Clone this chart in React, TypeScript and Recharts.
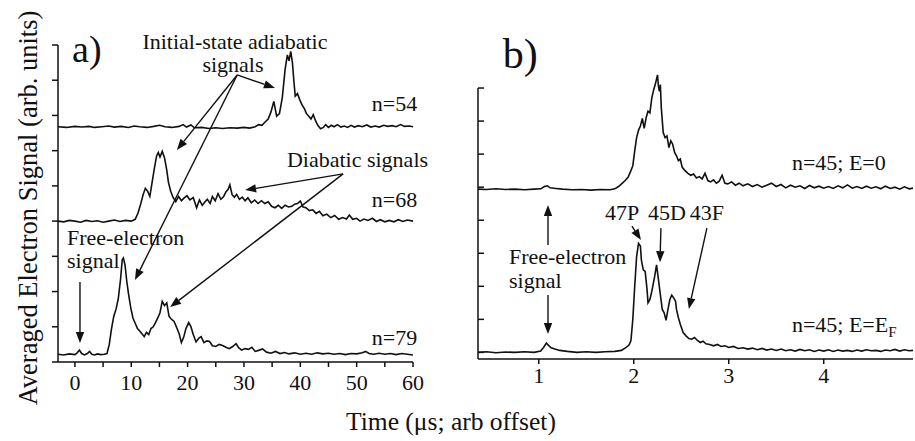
import React from "react";
import { LineChart, Line, XAxis, YAxis, ReferenceLine, ReferenceDot } from "recharts";

// panel a) time (µs) vs signal, three n states stacked with offsets
const n54: number[][] = [
  [-3, 6.68], [-1.5, 6.66], [0, 6.69], [1.2, 6.67], [2.5, 6.69], [3.5, 6.66], [4.8, 6.68], [6, 6.7], [7, 6.67],
  [8.2, 6.69], [9.5, 6.66], [10.5, 6.7], [11.5, 6.68], [12.8, 6.66], [14, 6.69], [15, 6.72], [16, 6.68],
  [17.2, 6.66], [18.5, 6.69], [19.2, 6.74], [19.8, 6.67], [20.6, 6.73], [21.2, 6.65], [22.5, 6.66], [23.8, 6.63],
  [25, 6.65], [26.2, 6.63], [27.5, 6.65], [28.8, 6.64], [30, 6.66], [31, 6.64], [32, 6.68], [32.6, 6.74],
  [33.2, 6.72], [33.8, 6.82], [34.3, 6.9], [34.8, 7.1], [35.3, 7.4], [35.8, 6.98], [36.3, 7.05], [36.8, 7.5],
  [37.3, 8.3], [37.7, 8.72], [38, 8.55], [38.3, 8.82], [38.6, 8.5], [38.9, 7.9], [39.1, 7.55], [39.5, 7.62],
  [39.9, 7.45], [40.3, 7.3], [40.7, 7.2], [41.1, 7.05], [41.5, 6.98], [41.9, 6.9], [42.3, 7.02], [42.7, 6.85],
  [43.1, 6.72], [43.6, 6.62], [44.1, 6.66], [44.5, 6.74], [45, 6.66], [45.5, 6.72], [46, 6.68], [46.6, 6.74],
  [47.2, 6.67], [47.8, 6.7], [48.4, 6.66], [49, 6.72], [49.6, 6.67], [50.3, 6.71], [51, 6.68], [51.8, 6.73],
  [52.5, 6.67], [53.3, 6.7], [54, 6.67], [54.8, 6.72], [55.5, 6.69], [56.3, 6.71], [57, 6.68], [57.8, 6.74],
  [58.5, 6.69], [59.3, 6.7], [60, 6.68],
];

const n68: number[][] = [
  [-3, 4.0], [-2, 3.98], [-1, 4.02], [0, 4.0], [1, 3.97], [2, 4.02], [3, 3.99], [4, 4.01], [5, 3.97], [6, 4.0],
  [7, 4.03], [8, 3.99], [9, 4.02], [10, 4.0], [10.7, 4.05], [11.2, 4.23], [11.7, 4.5], [12.1, 4.75], [12.5, 4.93],
  [12.9, 4.85], [13.3, 4.7], [13.7, 5.1], [14.1, 5.5], [14.5, 5.85], [14.8, 5.95], [15.1, 5.82], [15.5, 5.98],
  [15.9, 5.8], [16.3, 5.45], [16.6, 5.1], [17, 4.85], [17.4, 4.68], [17.9, 4.55], [18.4, 4.7], [18.9, 4.58],
  [19.4, 4.66], [19.9, 4.72], [20.4, 4.6], [21, 4.67], [21.6, 4.38], [22.1, 4.6], [22.6, 4.45], [23.1, 4.55],
  [23.5, 4.62], [24, 4.5], [24.4, 4.7], [24.9, 4.58], [25.4, 4.78], [25.9, 4.62], [26.4, 4.7], [26.8, 4.83],
  [27.2, 4.9], [27.5, 5.03], [27.9, 4.75], [28.3, 4.68], [28.7, 4.76], [29.2, 4.62], [29.7, 4.68], [30.2, 4.58],
  [30.7, 4.66], [31.3, 4.52], [31.9, 4.6], [32.5, 4.5], [33.1, 4.58], [33.7, 4.5], [34.3, 4.55], [34.9, 4.42],
  [35.5, 4.38], [36.1, 4.45], [36.7, 4.36], [37.3, 4.45], [37.9, 4.4], [38.5, 4.42], [39, 4.48], [39.5, 4.5],
  [40, 4.57], [40.5, 4.4], [41, 4.38], [41.6, 4.3], [42.2, 4.32], [42.8, 4.22], [43.4, 4.28], [44, 4.15],
  [44.7, 4.2], [45.4, 4.1], [46.1, 4.16], [46.8, 4.05], [47.5, 4.1], [48.2, 4.06], [48.7, 4.17], [49.3, 4.05],
  [50, 4.08], [50.6, 4.0], [51.3, 4.06], [52, 4.02], [52.8, 4.08], [53.5, 3.99], [54.2, 4.04], [55, 3.98],
  [55.8, 4.02], [56.6, 3.98], [57.4, 4.04], [58.2, 3.99], [59, 4.03], [60, 4.0],
];

const n79: number[][] = [
  [-3, 0.22], [-2, 0.2], [-1, 0.23], [0, 0.21], [0.4, 0.26], [0.8, 0.34], [1.2, 0.24], [1.7, 0.2], [2.2, 0.24],
  [2.6, 0.3], [3, 0.22], [3.5, 0.2], [4, 0.23], [4.6, 0.21], [5.2, 0.22], [5.7, 0.24], [6.1, 0.5], [6.5, 0.95],
  [6.9, 1.3], [7.3, 1.5], [7.7, 1.8], [8.1, 2.35], [8.4, 2.9], [8.6, 2.95], [8.9, 2.75], [9.2, 2.3], [9.5, 1.95],
  [9.9, 1.55], [10.3, 1.25], [10.7, 1.1], [11.1, 0.95], [11.5, 0.88], [11.9, 0.8], [12.3, 0.72], [12.7, 0.84],
  [13.1, 0.78], [13.5, 0.95], [13.9, 1.0], [14.3, 1.12], [14.7, 1.25], [15.1, 1.4], [15.5, 1.72], [15.9, 1.6],
  [16.3, 1.68], [16.7, 1.3], [17.1, 1.22], [17.6, 1.15], [18, 1.0], [18.5, 0.8], [18.9, 0.55], [19.3, 0.7],
  [19.7, 0.95], [20.2, 1.12], [20.6, 1.0], [21, 0.78], [21.5, 0.57], [22, 0.68], [22.4, 0.72], [22.9, 0.55],
  [23.4, 0.6], [23.9, 0.58], [24.4, 0.46], [25, 0.44], [25.6, 0.5], [26.2, 0.47], [26.8, 0.42], [27.4, 0.38],
  [28, 0.44], [28.6, 0.52], [29.1, 0.4], [29.6, 0.34], [30.2, 0.38], [30.8, 0.36], [31.4, 0.42], [32, 0.3],
  [32.6, 0.33], [33.3, 0.37], [34, 0.28], [34.8, 0.25], [35.6, 0.3], [36.4, 0.24], [37.2, 0.27], [38, 0.23],
  [39, 0.26], [40, 0.22], [41, 0.25], [42, 0.22], [43, 0.26], [44, 0.23], [45, 0.25], [46, 0.22], [47, 0.24],
  [48, 0.21], [49, 0.24], [50, 0.23], [51, 0.26], [51.6, 0.3], [52.2, 0.24], [53, 0.22], [54, 0.25], [55, 0.22],
  [56, 0.24], [57, 0.21], [58, 0.24], [59, 0.22], [60, 0.2],
];

// panel b) n=45, field off / on
const e0: number[][] = [
  [0.36, 4.94], [0.45, 4.93], [0.55, 4.95], [0.65, 4.93], [0.75, 4.94], [0.85, 4.92], [0.95, 4.94], [1.02, 4.95],
  [1.06, 5.02], [1.09, 5.04], [1.12, 4.98], [1.18, 4.96], [1.25, 4.94], [1.35, 4.92], [1.45, 4.93], [1.55, 4.91],
  [1.65, 4.93], [1.75, 4.92], [1.8, 4.95], [1.84, 5.02], [1.88, 5.12], [1.91, 5.2], [1.94, 5.3], [1.97, 5.5],
  [1.99, 5.65], [2.01, 6.1], [2.03, 6.5], [2.05, 6.72], [2.07, 6.85], [2.09, 7.08], [2.11, 6.78], [2.13, 7.1],
  [2.15, 7.3], [2.17, 7.25], [2.19, 7.7], [2.21, 7.95], [2.23, 8.15], [2.25, 8.4], [2.26, 8.05], [2.27, 7.9],
  [2.28, 8.1], [2.29, 7.4], [2.31, 6.65], [2.33, 6.5], [2.35, 6.55], [2.37, 6.2], [2.39, 6.4], [2.41, 6.3],
  [2.43, 6.05], [2.45, 5.95], [2.47, 5.8], [2.49, 5.85], [2.51, 5.6], [2.54, 5.5], [2.57, 5.42], [2.6, 5.36],
  [2.63, 5.4], [2.66, 5.28], [2.69, 5.32], [2.72, 5.25], [2.75, 5.42], [2.78, 5.2], [2.81, 5.16], [2.84, 5.22],
  [2.87, 5.12], [2.9, 5.18], [2.93, 5.36], [2.96, 5.12], [2.99, 5.1], [3.03, 5.16], [3.07, 5.06], [3.11, 5.12],
  [3.15, 5.04], [3.2, 5.1], [3.25, 5.02], [3.3, 5.08], [3.35, 5.0], [3.4, 5.06], [3.45, 5.12], [3.5, 5.02],
  [3.55, 5.08], [3.6, 4.98], [3.65, 5.06], [3.7, 5.0], [3.75, 5.04], [3.8, 4.96], [3.85, 5.05], [3.9, 4.98],
  [3.95, 5.03], [4.0, 4.97], [4.05, 5.02], [4.1, 4.96], [4.15, 5.04], [4.2, 4.98], [4.25, 5.07], [4.3, 4.97],
  [4.35, 5.02], [4.4, 4.96], [4.45, 5.03], [4.5, 4.97], [4.55, 5.01], [4.6, 4.95], [4.65, 5.03], [4.7, 4.96],
  [4.75, 5.0], [4.8, 4.94], [4.85, 5.01], [4.9, 4.95], [4.94, 4.97],
];

const eF: number[][] = [
  [0.36, 0.0], [0.45, 0.02], [0.55, -0.01], [0.65, 0.01], [0.75, 0.0], [0.85, 0.02], [0.95, 0.0], [1.02, 0.04],
  [1.05, 0.15], [1.08, 0.28], [1.1, 0.22], [1.13, 0.14], [1.17, 0.1], [1.22, 0.06], [1.3, 0.03], [1.4, 0.0],
  [1.5, 0.02], [1.6, 0.0], [1.7, 0.02], [1.8, 0.03], [1.87, 0.06], [1.92, 0.15], [1.95, 0.22], [1.97, 0.35],
  [1.99, 1.0], [2.01, 2.0], [2.03, 2.9], [2.05, 3.3], [2.07, 3.22], [2.08, 2.8], [2.1, 2.5], [2.12, 2.45],
  [2.14, 1.9], [2.15, 1.5], [2.17, 1.6], [2.19, 1.85], [2.2, 2.0], [2.22, 2.3], [2.24, 2.65], [2.26, 2.2],
  [2.28, 1.75], [2.3, 1.3], [2.32, 1.2], [2.34, 0.97], [2.36, 1.3], [2.38, 1.6], [2.4, 1.73], [2.42, 1.65],
  [2.44, 1.55], [2.45, 1.3], [2.47, 1.05], [2.49, 0.85], [2.52, 0.6], [2.55, 0.5], [2.58, 0.42], [2.61, 0.4],
  [2.64, 0.45], [2.67, 0.36], [2.7, 0.3], [2.73, 0.34], [2.76, 0.26], [2.8, 0.24], [2.84, 0.2], [2.88, 0.24],
  [2.92, 0.18], [2.96, 0.2], [3.0, 0.15], [3.05, 0.18], [3.1, 0.12], [3.15, 0.14], [3.2, 0.1], [3.25, 0.13],
  [3.3, 0.08], [3.35, 0.12], [3.4, 0.07], [3.45, 0.1], [3.5, 0.06], [3.55, 0.1], [3.6, 0.05], [3.65, 0.08],
  [3.7, 0.04], [3.75, 0.09], [3.8, 0.05], [3.85, 0.08], [3.9, 0.03], [3.95, 0.07], [4.0, 0.04], [4.05, 0.08],
  [4.1, 0.03], [4.15, 0.07], [4.2, 0.04], [4.25, 0.06], [4.3, 0.03], [4.35, 0.07], [4.4, 0.04], [4.45, 0.08],
  [4.5, 0.05], [4.55, 0.06], [4.6, 0.03], [4.65, 0.07], [4.7, 0.05], [4.75, 0.09], [4.8, 0.04], [4.85, 0.08],
  [4.9, 0.05], [4.94, 0.06],
];

const ticksAx = [0, 5, 10, 15, 20, 25, 30, 35, 40, 45, 50, 55, 60];
const ticksAy = [0, 1, 2, 3, 4, 5, 6, 7, 8, 9];
const ticksBx = [1, 2, 3, 4];
const ticksBy = [0, 1, 2, 3, 4, 5, 6, 7, 8];

// annotations (data coords): [text, x, y, anchor, size]
const notesA: [string, number, number, string, number][] = [
  ["a)", -0.5, 8.52, "start", 38],
  ["Initial-state adiabatic", 28.4, 8.89, "middle", 22],
  ["signals", 28.05, 8.23, "middle", 22],
  ["Diabatic signals", 50.15, 5.54, "middle", 22],
  ["n=54", 52.7, 7.13, "start", 22],
  ["n=68", 52.7, 4.4, "start", 22],
  ["n=79", 52.7, 0.48, "start", 22],
  ["Free-electron", -1.4, 3.32, "start", 22],
  ["signal", -1.4, 2.67, "start", 22],
];
const arrowsA: number[][] = [
  [28.8, 8.15, 18.1, 6.02],
  [28.8, 8.15, 35.5, 7.78],
  [28.8, 8.15, 10.66, 2.33],
  [47.6, 5.34, 30.2, 4.88],
  [47.6, 5.34, 16.9, 1.56],
  [0.9, 2.27, 0.9, 0.54],
];

const notesB: [string, number, number, string, number][] = [
  ["b)", 0.62, 8.6, "start", 42],
  ["n=45; E=0", 3.665, 5.52, "start", 22],
  ["Free-electron", 0.686, 2.67, "start", 22],
  ["signal", 0.686, 1.95, "start", 22],
  ["47P", 1.697, 4.0, "start", 22],
  ["45D", 2.15, 4.0, "start", 22],
  ["43F", 2.59, 4.0, "start", 22],
];
const arrowsB: number[][] = [
  [1.097, 3.25, 1.097, 4.46],
  [1.097, 1.74, 1.097, 0.56],
  [1.981, 3.82, 2.076, 3.4],
  [2.286, 3.76, 2.276, 2.73],
  [2.77, 3.76, 2.58, 1.31],
];

const toRows = (arr: number[][]) => arr.map(([t, v]) => ({ t, v }));

const FONT = "'Liberation Serif', 'Times New Roman', serif";
const INK = "#111";

const Arrow = (p: any) => {
  const { x1, y1, x2, y2 } = p;
  const a = Math.atan2(y2 - y1, x2 - x1);
  const L = 11;
  const W = 4.2;
  const bx = x2 - L * Math.cos(a);
  const by = y2 - L * Math.sin(a);
  const px = -Math.sin(a) * W;
  const py = Math.cos(a) * W;
  return (
    <g>
      <line x1={x1} y1={y1} x2={bx} y2={by} stroke={INK} strokeWidth={1.4} />
      <polygon points={`${x2},${y2} ${bx + px},${by + py} ${bx - px},${by - py}`} fill={INK} />
    </g>
  );
};

const noteShape = (text: string, anchor: string, size: number) => (p: any) => (
  <text x={p.cx} y={p.cy} textAnchor={anchor as any} fontFamily={FONT} fontSize={size} fill={INK}>
    {text}
  </text>
);

const efLabel = (p: any) => (
  <text x={p.cx} y={p.cy} textAnchor="start" fontFamily={FONT} fontSize={22} fill={INK}>
    n=45; E=E
    <tspan fontSize={15} dy={5}>F</tspan>
  </text>
);

const tickAx = (p: any) => {
  const v = p.payload.value;
  if (v % 10 !== 0) return <g />;
  return (
    <text x={p.x} y={p.y + 23} textAnchor="middle" fontFamily={FONT} fontSize={22} fill={INK}>
      {v}
    </text>
  );
};

const tickBx = (p: any) => (
  <text x={p.x} y={p.y + 19} textAnchor="middle" fontFamily={FONT} fontSize={22} fill={INK}>
    {p.payload.value}
  </text>
);

const noTick = () => <g />;

export default function App() {
  const line = { stroke: INK, strokeWidth: 1.5 };
  return (
    <div style={{ position: "absolute", left: 0, top: 0, width: 915, height: 441, background: "#fff" }}>
      <div style={{ position: "absolute", left: 0, top: 0 }}>
        <LineChart width={460} height={441} margin={{ top: 45, right: 47, bottom: 78, left: 57 }}>
          <XAxis
            type="number"
            dataKey="t"
            domain={[-3, 60]}
            ticks={ticksAx}
            interval={0}
            height={1}
            tickSize={5}
            tickMargin={0}
            axisLine={line}
            tickLine={line}
            tick={tickAx}
          />
          <YAxis
            type="number"
            domain={[0, 9]}
            ticks={ticksAy}
            interval={0}
            width={1}
            tickSize={6}
            axisLine={line}
            tickLine={line}
            tick={noTick}
          />
          <Line data={toRows(n54)} dataKey="v" type="linear" dot={false} stroke={INK} strokeWidth={1.6} isAnimationActive={false} />
          <Line data={toRows(n68)} dataKey="v" type="linear" dot={false} stroke={INK} strokeWidth={1.6} isAnimationActive={false} />
          <Line data={toRows(n79)} dataKey="v" type="linear" dot={false} stroke={INK} strokeWidth={1.6} isAnimationActive={false} />
          {arrowsA.map((s, i) => (
            <ReferenceLine
              key={`aa${i}`}
              segment={[{ x: s[0], y: s[1] }, { x: s[2], y: s[3] }]}
              ifOverflow="visible"
              shape={Arrow}
            />
          ))}
          {notesA.map(([t, x, y, anc, sz], i) => (
            <ReferenceDot key={`na${i}`} x={x} y={y} r={0} ifOverflow="visible" shape={noteShape(t, anc, sz)} />
          ))}
        </LineChart>
      </div>
      <div style={{ position: "absolute", left: 460, top: 0 }}>
        <LineChart width={455} height={441} margin={{ top: 68.2, right: 2, bottom: 81, left: 17 }}>
          <XAxis
            type="number"
            dataKey="t"
            domain={[0.36, 4.94]}
            ticks={ticksBx}
            interval={0}
            height={1}
            tickSize={5}
            tickMargin={0}
            axisLine={line}
            tickLine={line}
            tick={tickBx}
          />
          <YAxis
            type="number"
            domain={[-0.2, 8.6]}
            ticks={ticksBy}
            interval={0}
            width={1}
            tickSize={-6}
            axisLine={false}
            tickLine={line}
            tick={noTick}
          />
          <ReferenceLine segment={[{ x: 0.36, y: -0.2 }, { x: 0.36, y: 8 }]} stroke={INK} strokeWidth={1.5} ifOverflow="visible" />
          <Line data={toRows(e0)} dataKey="v" type="linear" dot={false} stroke={INK} strokeWidth={1.6} isAnimationActive={false} />
          <Line data={toRows(eF)} dataKey="v" type="linear" dot={false} stroke={INK} strokeWidth={1.6} isAnimationActive={false} />
          {arrowsB.map((s, i) => (
            <ReferenceLine
              key={`ab${i}`}
              segment={[{ x: s[0], y: s[1] }, { x: s[2], y: s[3] }]}
              ifOverflow="visible"
              shape={Arrow}
            />
          ))}
          {notesB.map(([t, x, y, anc, sz], i) => (
            <ReferenceDot key={`nb${i}`} x={x} y={y} r={0} ifOverflow="visible" shape={noteShape(t, anc, sz)} />
          ))}
          <ReferenceDot x={3.665} y={0.62} r={0} ifOverflow="visible" shape={efLabel} />
        </LineChart>
      </div>
      <svg width={915} height={441} style={{ position: "absolute", left: 0, top: 0, pointerEvents: "none" }}>
        <text transform="translate(37,208) rotate(-90)" textAnchor="middle" fontFamily={FONT} fontSize={26.5} fill={INK}>
          Averaged Electron Signal (arb. units)
        </text>
        <text x={451} y={430} textAnchor="middle" fontFamily={FONT} fontSize={25.5} fill={INK}>
          Time (μs; arb offset)
        </text>
      </svg>
    </div>
  );
}
